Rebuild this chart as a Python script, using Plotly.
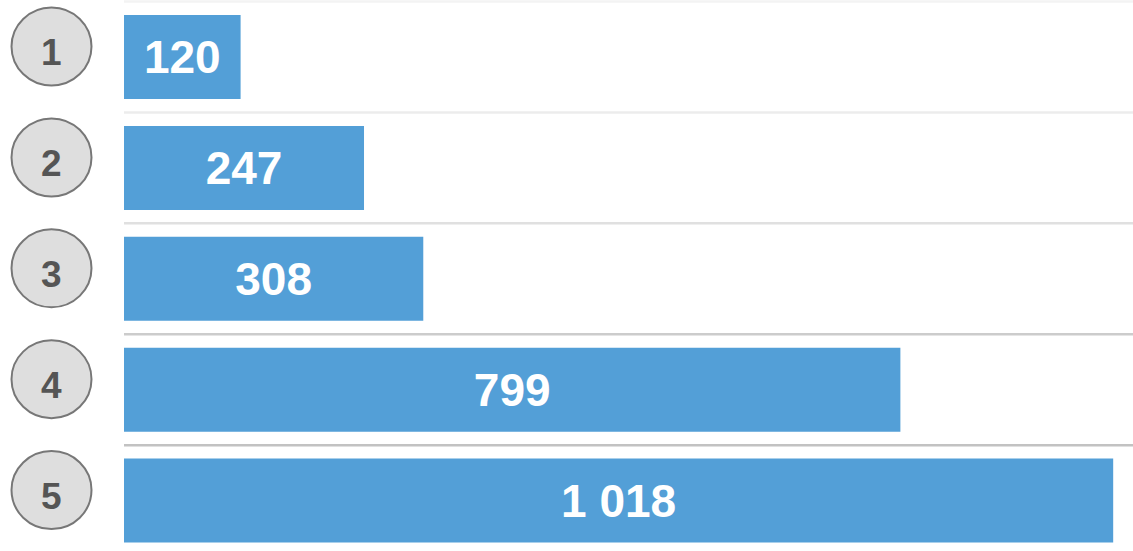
import plotly.graph_objects as go

ranks = ["1", "2", "3", "4", "5"]
values = [120, 247, 308, 799, 1018]
value_labels = ["120", "247", "308", "799", "1 018"]
separator_colors = ["#f3f3f3", "#ececec", "#e0e0e0", "#cccccc", "#c2c2c2"]

W, H = 1133, 551
left = 124
pitch = 110.9
y0_px = 57
span = H / pitch
ymin = -y0_px / pitch
ymax = ymin + span
plot_w = W - left
xscale = 0.9717
xmax = plot_w / xscale

idx = list(range(len(values)))

fig = go.Figure()
fig.add_trace(go.Bar(
    x=values, y=idx, orientation="h",
    width=84 / pitch,
    marker=dict(color="#539fd7", line=dict(width=0)),
    text=value_labels, textposition="inside", insidetextanchor="middle",
    textfont=dict(family="Arial, Liberation Sans, sans-serif", size=46, color="white", weight="bold"),
    hoverinfo="skip",
))

shapes = []
for k, c in enumerate(separator_colors):
    yy = k - 0.5
    shapes.append(dict(type="line", xref="paper", yref="y", x0=0, x1=1, y0=yy, y1=yy,
                       line=dict(color=c, width=2.5), layer="below"))

cx = (51.5 - left) / plot_w
rx = 40 / plot_w
ry = 39 / pitch
annotations = []
for i, r in zip(idx, ranks):
    cy = i - 10.5 / pitch
    shapes.append(dict(type="circle", xref="paper", yref="y",
                       x0=cx - rx, x1=cx + rx, y0=cy - ry, y1=cy + ry,
                       fillcolor="#dedede", line=dict(color="#777777", width=2)))
    annotations.append(dict(xref="paper", yref="y", x=cx, y=i - 4.5 / pitch, text=r,
                            showarrow=False, xanchor="center", yanchor="middle",
                            font=dict(family="Arial, Liberation Sans, sans-serif", size=37,
                                      color="#555555", weight="bold")))

fig.update_layout(
    width=W, height=H,
    margin=dict(l=left, r=0, t=0, b=0),
    paper_bgcolor="white", plot_bgcolor="white",
    showlegend=False,
    xaxis=dict(range=[0, xmax], visible=False, fixedrange=True),
    yaxis=dict(range=[ymax, ymin], visible=False, fixedrange=True),
    shapes=shapes, annotations=annotations,
)

fig.write_html("out.html", config={"displayModeBar": False},
               post_script="document.body.style.margin='0px';document.body.style.overflow='hidden';")
